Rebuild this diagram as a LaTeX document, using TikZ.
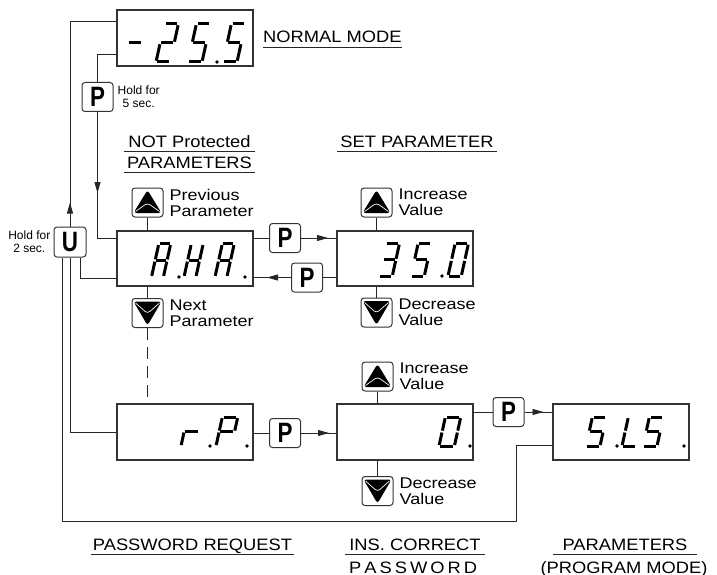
\documentclass[tikz,border=0pt]{standalone}
\usepackage{fontspec}
\setmainfont{Liberation Sans}
\newfontfamily\headfont[FakeStretch=1.11]{Liberation Sans}
\newfontfamily\lblfont[FakeStretch=1.16]{Liberation Sans}
\newfontfamily\keyfont[FakeStretch=0.8]{Liberation Sans}
\usetikzlibrary{arrows.meta,positioning,decorations.markings}

% seven segment character: [scale options]{(bottom left)}{segments}
\makeatletter
\newcommand\lcdchar[3][]{%
  \begin{scope}[shift={#2}, x=1pt, y=1pt, xslant=0.22, #1]
    \foreach \sg/\xa/\ya/\xb/\yb in {a/1.2/36/12.8/36, b/14/34.8/14/19.2, c/14/16.8/14/1.2,
        d/1.2/0/12.8/0, e/0/1.2/0/16.8, f/0/19.2/0/34.8, g/1.2/18/12.8/18}{%
      \edef\lcd@test{\noexpand\in@{\sg}{#3}}\lcd@test
      \ifin@\draw[lcdseg] (\xa,\ya) -- (\xb,\yb);\fi}
  \end{scope}}
\makeatother
\newcommand\lcddot[1]{\fill #1 circle (1.8pt);}

\begin{document}
\begin{tikzpicture}[x=1pt, y=-1pt,
  lcdbox/.style={draw=black!80, line width=1.1pt, minimum width=136pt, minimum height=56pt, inner sep=0pt},
  lcdseg/.style={line width=3pt},
  keybox/.style={draw=black!80, line width=1pt, rounded corners=3pt, minimum width=31pt, minimum height=29pt, inner sep=0pt},
  key/.style={keybox, font=\keyfont\bfseries\fontsize{28}{28}\selectfont},
  upkey/.style={keybox, path picture={
    \fill ([shift={(1.5pt,4pt)}]path picture bounding box.south west) -- ([yshift=-2pt]path picture bounding box.north)
      -- ([shift={(-1.5pt,4pt)}]path picture bounding box.south east) -- cycle;
    \draw[white, line width=0.7pt] ([shift={(3.5pt,5.5pt)}]path picture bounding box.south west)
      -- ([yshift=14pt]path picture bounding box.south) -- ([shift={(-3.5pt,5.5pt)}]path picture bounding box.south east);}},
  downkey/.style={keybox, path picture={
    \fill ([shift={(1.5pt,-3pt)}]path picture bounding box.north west) -- ([yshift=2pt]path picture bounding box.south)
      -- ([shift={(-1.5pt,-3pt)}]path picture bounding box.north east) -- cycle;
    \draw[white, line width=0.7pt] ([shift={(3.5pt,-4.5pt)}]path picture bounding box.north west)
      -- ([yshift=-15pt]path picture bounding box.north) -- ([shift={(-3.5pt,-4.5pt)}]path picture bounding box.north east);}},
  link/.style={draw=black!85, line width=0.9pt},
  arrowat/.style={postaction={decorate}, decoration={markings, mark=at position #1 with {\arrow{Triangle[length=11pt, width=6pt]}}}},
  lbl/.style={font=\lblfont\fontsize{15.5}{16}\selectfont, align=left, inner sep=0pt},
  head/.style={font=\headfont\fontsize{16.5}{18}\selectfont, inner xsep=0pt, inner ysep=0pt, text depth=4pt},
  underl/.style={append after command={\pgfextra{\draw[link] (\tikzlastnode.south west) -- (\tikzlastnode.south east);}}},
  hold/.style={font=\fontsize{12}{13}\selectfont, align=center, inner sep=0pt}]
  \useasboundingbox (0,0) rectangle (717,575);

  % displays
  \node[lcdbox] (normal) at (185,38) {};
  \node[lcdbox, minimum height=55pt] (aha) at (185,258.5) {};
  \node[lcdbox, minimum height=55pt] (setp) at (405,258.5) {};
  \node[lcdbox] (rp) at (185,432) {};
  \node[lcdbox] (ins) at (405,432) {};
  \node[lcdbox] (sls) at (621,432) {};

  % keys
  \node[key] (phold) at (97.5,97) {P};
  \node[key, minimum width=32pt, minimum height=30pt] (ubtn) at (70,242) {U};
  \node[key] (pfwd) at (285,238) {P};
  \node[key] (pback) at (307,277.5) {P};
  \node[key] (prp) at (285,433) {P};
  \node[key] (pins) at (508.5,412) {P};
  \node[upkey] (prevbtn) at (147.5,202.5) {};
  \node[downkey] (nextbtn) at (147.5,313) {};
  \node[upkey] (incset) at (376.5,202.5) {};
  \node[downkey] (decset) at (376.5,312.5) {};
  \node[upkey] (incins) at (377.5,376.5) {};
  \node[downkey] (decins) at (377.5,491) {};

  \node[lbl, right=6pt of prevbtn] (prevlbl) {Previous\\Parameter};
  \node[lbl, right=6pt of nextbtn] (nextlbl) {Next\\Parameter};
  \node[lbl, right=6pt of incset] (incsetlbl) {Increase\\Value};
  \node[lbl, right=6pt of decset] (decsetlbl) {Decrease\\Value};
  \node[lbl, right=6pt of incins] (incinslbl) {Increase\\Value};
  \node[lbl, right=6pt of decins] (decinslbl) {Decrease\\Value};
  \node[hold, right=4pt of phold] (holdp) {Hold for\\5 sec.};
  \node[hold, left=3pt of ubtn] (holdu) {Hold for\\2 sec.};

  % headings
  \node[head, underl, anchor=base west] (normallbl) at (263,43) {NORMAL MODE};
  \node[head, underl, minimum width=131pt, anchor=base] (notprot) at (189.5,147) {NOT Protected};
  \node[head, underl, minimum width=131pt, anchor=base] (notprotpar) at (189.5,168) {PARAMETERS};
  \node[head, underl, minimum width=160pt, anchor=base] (setlbl) at (417,147) {SET PARAMETER};
  \node[head, underl, minimum width=203pt, anchor=base] (pwreq) at (192.5,550) {PASSWORD REQUEST};
  \node[head, underl, minimum width=140pt, anchor=base] (inscorr) at (415,550) {INS. CORRECT};
  \node[head, anchor=base west] (inspw) at (349,573) {\hbox to 128pt{P\hfil A\hfil S\hfil S\hfil W\hfil O\hfil R\hfil D}};
  \node[head, underl, minimum width=144pt, anchor=base] (progpar) at (625,550) {PARAMETERS};
  \node[head, anchor=base] (progmode) at (624,573) {(PROGRAM MODE)};

  % connectors
  \draw[link, arrowat=24pt] (ubtn.north) |- ([yshift=17pt]normal.west);
  \draw[link] ([yshift=-16pt]normal.west) -| (phold.north);
  \draw[link, arrowat=81pt] (phold.south) |- ([yshift=20.5pt]aha.west);
  \draw[link] ([xshift=10pt]ubtn.south) |- ([yshift=-19.5pt]aha.west);
  \draw[link] (ubtn.south) |- (rp.west);
  \coordinate (retcorner) at (516,521);
  \draw[link] ([xshift=-8pt]ubtn.south) |- (retcorner) |- ([yshift=-13pt]sls.west);
  \draw[link] (prevbtn.south) -- (prevbtn.south |- aha.north);
  \draw[link] (aha.south -| nextbtn.north) -- (nextbtn.north);
  \draw[link, dash pattern=on 12pt off 7pt] (nextbtn.south) -- (nextbtn.south |- rp.north);
  \draw[link] (aha.east |- pfwd.west) -- (pfwd.west);
  \draw[link, arrowat=27pt] (pfwd.east) -- (pfwd.east -| setp.west);
  \draw[link] (setp.west |- pback.east) -- (pback.east);
  \draw[link, arrowat=24pt] (pback.west) -- (pback.west -| aha.east);
  \draw[link] (incset.south) -- (incset.south |- setp.north);
  \draw[link] (setp.south -| decset.north) -- (decset.north);
  \draw[link] (rp.east |- prp.west) -- (prp.west);
  \draw[link, arrowat=28pt] (prp.east) -- (prp.east -| ins.west);
  \draw[link] (incins.south) -- (incins.south |- ins.north);
  \draw[link] (ins.south -| decins.north) -- (decins.north);
  \draw[link] (ins.east |- pins.west) -- (pins.west);
  \draw[link, arrowat=19pt] (pins.east) -- (pins.east -| sls.west);

  % display contents
  \lcdchar[yscale=1.056]{(124,62)}{g}
  \lcdchar[yscale=1.056]{(156,62)}{abged}
  \lcdchar[yscale=1.056]{(188,62)}{afgcd}
  \lcdchar[yscale=1.056]{(223,62)}{afgcd}
  \lcddot{(217,62)}
  \lcdchar[xscale=0.85, yscale=0.917]{(151.5,277)}{abcefg}
  \lcdchar[xscale=0.85, yscale=0.917]{(184,277)}{bcefg}
  \lcdchar[xscale=0.85, yscale=0.917]{(215,277)}{abcefg}
  \lcddot{(179,277)} \lcddot{(245,277)}
  \lcdchar[xscale=0.95, yscale=0.9]{(379,276)}{abgcd}
  \lcdchar[xscale=0.95, yscale=0.9]{(411,276)}{afgcd}
  \lcdchar[xscale=0.95, yscale=0.9]{(448,276)}{abcdef}
  \lcddot{(442,276)}
  \lcdchar[xscale=1.1, yscale=0.8]{(181,446)}{eg}
  \lcdchar[xscale=1.1, yscale=0.8]{(216,446)}{abefg}
  \lcddot{(210,446)} \lcddot{(247,446)}
  \lcdchar[xscale=1.1, yscale=0.8]{(439,446)}{abcdef}
  \lcddot{(470,446)}
  \lcdchar[yscale=0.8]{(586,446)}{afgcd}
  \lcdchar[yscale=0.8]{(622,446)}{def}
  \lcdchar[yscale=0.8]{(643,446)}{afgcd}
  \lcddot{(617,446)} \lcddot{(684,446)}
\end{tikzpicture}
\end{document}
